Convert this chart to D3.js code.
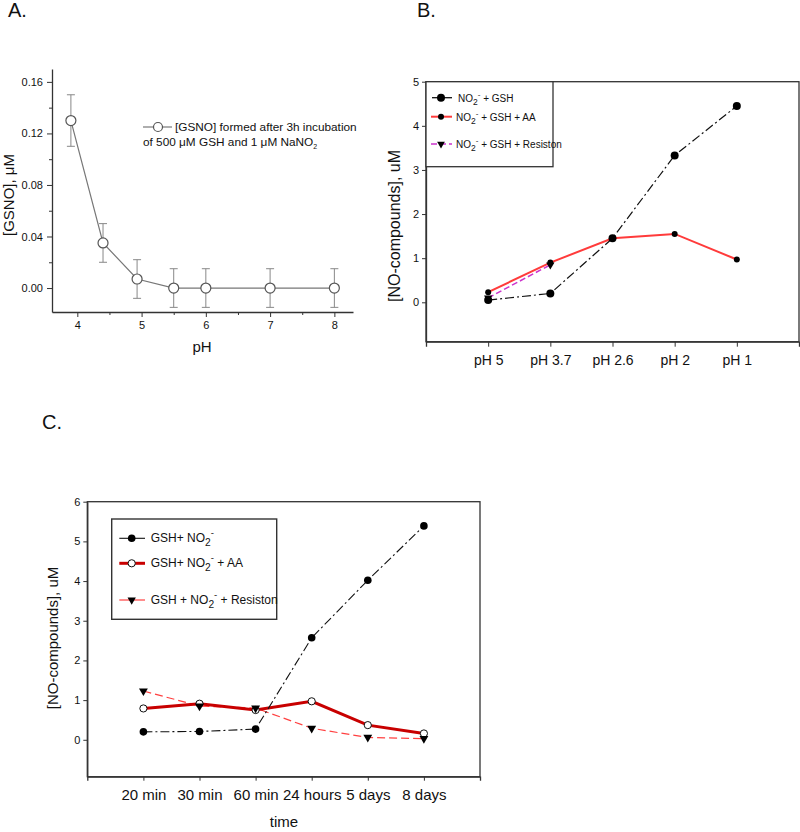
<!DOCTYPE html>
<html>
<head>
<meta charset="utf-8">
<script src="https://cdn.jsdelivr.net/npm/d3@7"></script>
<style>
body { margin: 0; background: #fff; }
text { font-family: "Liberation Sans", Arial, sans-serif; fill: #111; }
</style>
</head>
<body>
<script>
// ---- panel A data
const phA = [3.9, 4.4, 4.93, 5.5, 6, 7, 8];
const gsnoA = [0.13, 0.035, 0.007, 0, 0, 0, 0];
const errA = [0.02, 0.015, 0.015, 0.015, 0.015, 0.015, 0.015];
const yTicksA = [0, 0.04, 0.08, 0.12, 0.16];
const yMinorA = [0.02, 0.06, 0.1, 0.14];
const xTicksA = [4, 5, 6, 7, 8];
const xMinorA = [4.5, 5.5, 6.5, 7.5];

// ---- panel B data
const catsB = ["pH 5", "pH 3.7", "pH 2.6", "pH 2", "pH 1"];
const gshB = [0.05, 0.2, 1.45, 3.33, 4.45];
const aaB = [0.23, 0.9, 1.45, 1.55, 0.97];
const resB = [0.1, 0.85];
const yTicksB = [0, 1, 2, 3, 4, 5];

// ---- panel C data
const catsC = ["20 min", "30 min", "60 min", "24 hours", "5 days", "8 days"];
const gshC = [0.2, 0.21, 0.27, 2.57, 4.02, 5.39];
const aaC = [0.79, 0.91, 0.75, 0.97, 0.37, 0.16];
const resC = [1.23, 0.85, 0.8, 0.29, 0.06, 0.03];
const yTicksC = [0, 1, 2, 3, 4, 5, 6];

const svg = d3.select("body").append("svg")
	.attr("width", 800).attr("height", 832);

const axisCol = "#333";

function styleAxis(g, fs) {
	g.selectAll("path.domain").attr("stroke", axisCol).attr("stroke-width", 1.3);
	g.selectAll(".tick line").attr("stroke", axisCol).attr("stroke-width", 1);
	g.selectAll(".tick text").style("font-size", fs + "px").attr("fill", "#111")
		.style("font-family", "'Liberation Sans', Arial, sans-serif");
}

// text like NO2- + GSH with sub and superscript
function chemText(g, x, y, fs, pre, post) {
	const t = g.append("text").attr("x", x).attr("y", y).style("font-size", fs + "px");
	t.append("tspan").text(pre + "NO");
	t.append("tspan").text("2").attr("dy", fs * 0.3).style("font-size", (fs * 0.85) + "px");
	t.append("tspan").text("-").attr("dy", -fs * 0.8).style("font-size", (fs * 0.8) + "px");
	t.append("tspan").text(post).attr("dy", fs * 0.5);
	return t;
}

function triDown(size) {
	return d3.symbol(d3.symbolTriangle, size)();
}

// ================= PANEL A =================
{
	const x = d3.scaleLinear().domain([3.606, 8.29]).range([52, 353]);
	const y = d3.scaleLinear().domain([-0.0186, 0.17]).range([312, 69]);
	const g = svg.append("g");

	const ax = g.append("g").attr("transform", "translate(0,312)")
		.call(d3.axisBottom(x).tickValues(xTicksA).tickFormat(d3.format("d")).tickSize(5).tickSizeOuter(0).tickPadding(4));
	styleAxis(ax, 11);
	g.append("g").attr("transform", "translate(0,312)")
		.call(d3.axisBottom(x).tickValues(xMinorA).tickFormat("").tickSize(3).tickSizeOuter(0))
		.call(a => { a.select(".domain").remove(); a.selectAll("line").attr("stroke", axisCol); });

	const ay = g.append("g").attr("transform", "translate(52,0)")
		.call(d3.axisLeft(y).tickValues(yTicksA).tickFormat(d3.format(".2f")).tickSize(5).tickSizeOuter(0).tickPadding(4));
	styleAxis(ay, 11);
	g.append("g").attr("transform", "translate(52,0)")
		.call(d3.axisLeft(y).tickValues(yMinorA).tickFormat("").tickSize(3).tickSizeOuter(0))
		.call(a => { a.select(".domain").remove(); a.selectAll("line").attr("stroke", axisCol); });

	const pts = phA.map((p, i) => ({x: p, y: gsnoA[i], e: errA[i]}));

	// error bars
	const eb = g.append("g").attr("stroke", "#888").attr("stroke-width", 1);
	pts.forEach(d => {
		eb.append("line").attr("x1", x(d.x)).attr("x2", x(d.x)).attr("y1", y(d.y - d.e)).attr("y2", y(d.y + d.e));
		eb.append("line").attr("x1", x(d.x) - 4).attr("x2", x(d.x) + 4).attr("y1", y(d.y - d.e)).attr("y2", y(d.y - d.e));
		eb.append("line").attr("x1", x(d.x) - 4).attr("x2", x(d.x) + 4).attr("y1", y(d.y + d.e)).attr("y2", y(d.y + d.e));
	});

	g.append("path").datum(pts)
		.attr("d", d3.line().x(d => x(d.x)).y(d => y(d.y)))
		.attr("fill", "none").attr("stroke", "#777").attr("stroke-width", 1.2);
	g.selectAll("circle.pt").data(pts).enter().append("circle")
		.attr("cx", d => x(d.x)).attr("cy", d => y(d.y)).attr("r", 5)
		.attr("fill", "#fff").attr("stroke", "#555").attr("stroke-width", 1.2);

	// legend
	g.append("line").attr("x1", 143).attr("x2", 172).attr("y1", 127).attr("y2", 127)
		.attr("stroke", "#777").attr("stroke-width", 1.2);
	g.append("circle").attr("cx", 158).attr("cy", 127).attr("r", 4.5)
		.attr("fill", "#fff").attr("stroke", "#555").attr("stroke-width", 1.2);
	g.append("text").attr("x", 175).attr("y", 131).style("font-size", "11.8px")
		.text("[GSNO] formed after 3h incubation");
	const l2 = g.append("text").attr("x", 143).attr("y", 146).style("font-size", "11.8px");
	l2.append("tspan").text("of 500 \u03bcM GSH and 1 \u03bcM NaNO");
	l2.append("tspan").text("2").attr("dy", 3).style("font-size", "7px");

	g.append("text").attr("x", 202).attr("y", 352).attr("text-anchor", "middle")
		.style("font-size", "15px").text("pH");
	g.append("text").attr("transform", "translate(14,195) rotate(-90)").attr("text-anchor", "middle")
		.style("font-size", "15px").text("[GSNO], \u03bcM");
	g.append("text").attr("x", 8).attr("y", 17).style("font-size", "20px").text("A.");
}

// ================= PANEL B =================
{
	const L = 426, R = 799, T = 81.7, B = 341.7;
	const x = d3.scaleLinear().domain([-1, 5]).range([L, R]);
	const y = d3.scaleLinear().domain([-0.893, 5]).range([B, T]);
	const g = svg.append("g");

	g.append("rect").attr("x", L).attr("y", T).attr("width", R - L).attr("height", B - T)
		.attr("fill", "none").attr("stroke", axisCol).attr("stroke-width", 1.3);

	const ax = g.append("g").attr("transform", `translate(0,${B})`)
		.call(d3.axisBottom(x).tickValues(d3.range(catsB.length)).tickFormat(i => catsB[i])
			.tickSize(5).tickSizeOuter(5).tickPadding(8));
	styleAxis(ax, 14);
	const ay = g.append("g").attr("transform", `translate(${L},0)`)
		.call(d3.axisLeft(y).tickValues(yTicksB).tickFormat(d3.format("d")).tickSize(4).tickSizeOuter(0).tickPadding(3));
	styleAxis(ay, 11);

	const line = d3.line().x((d, i) => x(i)).y(d => y(d));

	g.append("path").datum(aaB).attr("d", line).attr("fill", "none")
		.attr("stroke", "#ff3b3b").attr("stroke-width", 2);
	g.append("path").datum(resB).attr("d", line).attr("fill", "none")
		.attr("stroke", "#cc33cc").attr("stroke-width", 1.5).attr("stroke-dasharray", "6,3");
	g.append("path").datum(gshB).attr("d", line).attr("fill", "none")
		.attr("stroke", "#111").attr("stroke-width", 1.2).attr("stroke-dasharray", "9,3,2,3");

	g.selectAll("path.tb").data(resB).enter().append("path")
		.attr("d", triDown(30))
		.attr("transform", (d, i) => `translate(${x(i)},${y(d)}) rotate(180)`).attr("fill", "#000");
	g.selectAll("circle.aa").data(aaB).enter().append("circle")
		.attr("cx", (d, i) => x(i)).attr("cy", d => y(d)).attr("r", 3).attr("fill", "#000");
	g.selectAll("circle.gsh").data(gshB).enter().append("circle")
		.attr("cx", (d, i) => x(i)).attr("cy", d => y(d)).attr("r", 4).attr("fill", "#000");

	// legend
	g.append("rect").attr("x", L).attr("y", T).attr("width", 127).attr("height", 85)
		.attr("fill", "#fff").attr("stroke", axisCol).attr("stroke-width", 1.3);
	const ly = [97.7, 116.7, 144];
	g.append("line").attr("x1", 432).attr("x2", 452).attr("y1", ly[0]).attr("y2", ly[0]).attr("stroke", "#111").attr("stroke-width", 1.3);
	g.append("circle").attr("cx", 441).attr("cy", ly[0]).attr("r", 4).attr("fill", "#000");
	chemText(g, 458, ly[0] + 4, 10, "", "  + GSH");
	g.append("line").attr("x1", 431).attr("x2", 452).attr("y1", ly[1]).attr("y2", ly[1]).attr("stroke", "#ff3b3b").attr("stroke-width", 2);
	g.append("circle").attr("cx", 441).attr("cy", ly[1]).attr("r", 3).attr("fill", "#000");
	chemText(g, 456, ly[1] + 4, 10, "", "  + GSH + AA");
	g.append("line").attr("x1", 431).attr("x2", 452).attr("y1", ly[2]).attr("y2", ly[2]).attr("stroke", "#cc33cc").attr("stroke-width", 1.5).attr("stroke-dasharray", "6,3");
	g.append("path").attr("d", triDown(26)).attr("transform", `translate(441,${ly[2]}) rotate(180)`).attr("fill", "#000");
	chemText(g, 456, ly[2] + 4, 10, "", " + GSH + Resiston");

	g.append("text").attr("transform", "translate(400,226) rotate(-90)").attr("text-anchor", "middle")
		.style("font-size", "16px").text("[NO-compounds], uM");
	g.append("text").attr("x", 417).attr("y", 17).style("font-size", "20px").text("B.");
}

// ================= PANEL C =================
{
	const L = 87.3, R = 480, T = 501.7, B = 776.7;
	const x = d3.scaleLinear().domain([-1, 6]).range([L, R]);
	const y = d3.scaleLinear().domain([-0.93, 6]).range([B, T]);
	const g = svg.append("g");

	g.append("rect").attr("x", L).attr("y", T).attr("width", R - L).attr("height", B - T)
		.attr("fill", "none").attr("stroke", axisCol).attr("stroke-width", 1.3);

	const ax = g.append("g").attr("transform", `translate(0,${B})`)
		.call(d3.axisBottom(x).tickValues(d3.range(catsC.length)).tickFormat(i => catsC[i])
			.tickSize(4).tickSizeOuter(4).tickPadding(9));
	styleAxis(ax, 15);
	const ay = g.append("g").attr("transform", `translate(${L},0)`)
		.call(d3.axisLeft(y).tickValues(yTicksC).tickFormat(d3.format("d")).tickSize(4).tickSizeOuter(0).tickPadding(3));
	styleAxis(ay, 11);

	const line = d3.line().x((d, i) => x(i)).y(d => y(d));

	g.append("path").datum(resC).attr("d", line).attr("fill", "none")
		.attr("stroke", "#ff4040").attr("stroke-width", 1.2).attr("stroke-dasharray", "8,4");
	g.append("path").datum(aaC).attr("d", line).attr("fill", "none")
		.attr("stroke", "#c80000").attr("stroke-width", 3);
	g.append("path").datum(gshC).attr("d", line).attr("fill", "none")
		.attr("stroke", "#111").attr("stroke-width", 1.1).attr("stroke-dasharray", "9,3,2,3");

	g.selectAll("circle.gsh").data(gshC).enter().append("circle")
		.attr("cx", (d, i) => x(i)).attr("cy", d => y(d)).attr("r", 3.8).attr("fill", "#000");
	g.selectAll("circle.aa").data(aaC).enter().append("circle")
		.attr("cx", (d, i) => x(i)).attr("cy", d => y(d)).attr("r", 3.6)
		.attr("fill", "#fff").attr("stroke", "#111").attr("stroke-width", 1);
	g.selectAll("path.res").data(resC).enter().append("path")
		.attr("d", triDown(34))
		.attr("transform", (d, i) => `translate(${x(i)},${y(d)}) rotate(180)`).attr("fill", "#000");

	// legend
	g.append("rect").attr("x", 111.7).attr("y", 519).attr("width", 165).attr("height", 100.3)
		.attr("fill", "#fff").attr("stroke", axisCol).attr("stroke-width", 1.4);
	const ly = [538.3, 563.3, 600];
	g.append("line").attr("x1", 119.3).attr("x2", 145).attr("y1", ly[0]).attr("y2", ly[0]).attr("stroke", "#111").attr("stroke-width", 1.1);
	g.append("circle").attr("cx", 131.7).attr("cy", ly[0]).attr("r", 3.8).attr("fill", "#000");
	chemText(g, 150.7, ly[0] + 4, 12, "GSH+ ", "");
	g.append("line").attr("x1", 119.3).attr("x2", 145).attr("y1", ly[1]).attr("y2", ly[1]).attr("stroke", "#c80000").attr("stroke-width", 3);
	g.append("circle").attr("cx", 131.7).attr("cy", ly[1]).attr("r", 3.6).attr("fill", "#fff").attr("stroke", "#111");
	chemText(g, 150.7, ly[1] + 4, 12, "GSH+ ", " + AA");
	g.append("line").attr("x1", 119.3).attr("x2", 145).attr("y1", ly[2]).attr("y2", ly[2]).attr("stroke", "#ff4040").attr("stroke-width", 1.2);
	g.append("path").attr("d", triDown(30)).attr("transform", `translate(131.7,${ly[2]}) rotate(180)`).attr("fill", "#000");
	chemText(g, 150.7, ly[2] + 4, 12, "GSH + ", " + Resiston");

	g.append("text").attr("transform", "translate(58,638) rotate(-90)").attr("text-anchor", "middle")
		.style("font-size", "15px").text("[NO-compounds], uM");
	g.append("text").attr("x", 284).attr("y", 827).attr("text-anchor", "middle")
		.style("font-size", "15px").text("time");
	g.append("text").attr("x", 42).attr("y", 429).style("font-size", "20px").text("C.");
}
</script>
</body>
</html>
